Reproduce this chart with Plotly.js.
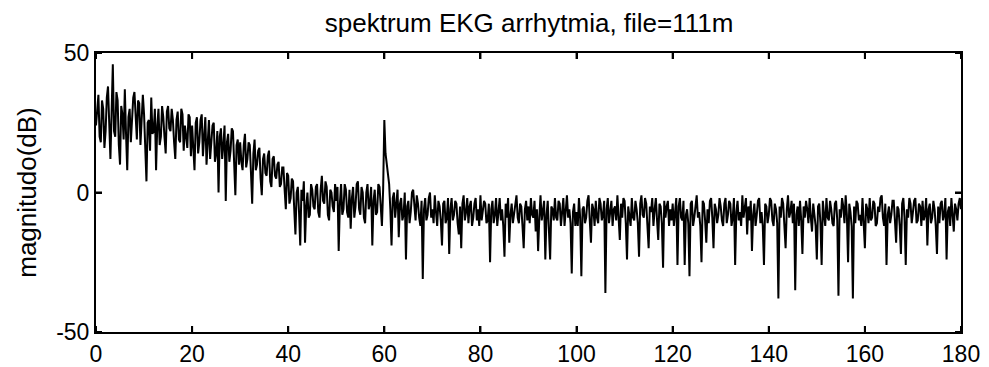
<!DOCTYPE html>
<html>
<head>
<meta charset="utf-8">
<script src="https://cdn.plot.ly/plotly-3.0.1.min.js"></script>
<style>html,body{margin:0;padding:0;background:#fff;}#chart{width:989px;height:367px;}</style>
</head>
<body>
<div id="chart"></div>
<script>
// Frequency step 0.25 Hz from 0 to 180
const freqStart = 0;
const freqStep = 0.25;
// Magnitudes (dB), in 10 Hz blocks
const mag0_10    = [24,31,35,20,18,33,30,16,22,34,38,25,12,29,46,22,20,36,33,17,10,31,28,19,37,21,8,27,30,18,25,34,36,24,19,33,32,17,24,35];
const mag10_20   = [28,18,4,25,26,15,34,21,22,30,8,24,30,17,20,31,27,20,14,29,31,23,22,30,26,18,12,26,29,19,18,30,28,15,24,20,16,28,27,13];
const mag20_30   = [24,16,8,25,27,14,18,26,28,13,22,27,10,21,26,12,19,24,25,11,14,22,0,20,23,12,17,24,-3,18,21,11,15,23,22,9,-1,17,19,10];
const mag30_40   = [18,11,8,17,21,9,12,18,17,7,-4,14,19,8,10,15,16,5,-1,12,14,7,6,13,15,4,2,12,13,6,5,10,11,2,3,9,9,1,-6,7];
const mag40_50   = [6,-4,-2,5,4,-6,-15,0,2,-7,-19,1,-3,4,-18,-5,0,-9,-8,3,1,-5,-6,2,3,-7,-9,1,6,-3,-4,4,2,-8,-10,1,0,-5,-7,3];
const mag50_60   = [-3,2,-21,-4,3,-8,-6,3,1,-7,-9,1,-13,-2,2,-9,-5,3,4,-6,-8,2,0,-9,-11,0,3,-6,-4,2,-19,-3,1,-8,-7,3,2,-5,-12,1];
const mag60_70   = [26,14,10,6,3,-6,-19,-2,0,-9,-5,1,-16,-4,-2,-10,-8,0,-24,-5,-3,-11,-7,0,1,-7,-10,-1,-4,-9,-12,-3,-31,-6,-2,-10,-8,-2,0,-9];
const mag70_80   = [-6,-11,-1,-7,-12,-3,-5,-10,-19,-4,-3,-11,-9,-2,-22,-6,-2,-10,-8,-3,-4,-11,-15,-5,-20,-4,-1,-10,-7,-2,-11,-5,-3,-12,-9,-4,-2,-10,-6,-12];
const mag80_90   = [-1,-10,-7,-3,-4,-11,-10,-4,-25,-6,-3,-11,-8,-2,-12,-5,-2,-10,-6,-12,-23,-4,-9,-2,-18,-8,-4,-11,-7,-3,-1,-9,-11,-4,-5,-12,-20,-6,-3,-10];
const mag90_100  = [-5,-11,-2,-8,-9,-3,-14,-6,-21,-9,-1,-10,-7,-3,-24,-8,-3,-11,-24,-5,-6,-10,-2,-9,-10,-3,-4,-12,-8,-2,-12,-5,-1,-9,-6,-11,-29,-7,-4,-12];
const mag100_110 = [-7,-12,-2,-9,-30,-6,-5,-11,-9,-3,-1,-10,-18,-4,-6,-12,-3,-9,-11,-2,-4,-10,-8,-3,-36,-6,-2,-11,-7,-3,-12,-6,-5,-10,-1,-8,-17,-4,-9,-2];
const mag110_120 = [-3,-11,-24,-5,-8,-12,-2,-9,-10,-3,-6,-11,-23,-4,-1,-8,-9,-2,-4,-11,-20,-5,-7,-2,-12,-6,-2,-10,-17,-4,-5,-11,-27,-3,-9,-5,-3,-12,-6,-10];
const mag120_130 = [-4,-12,-8,-2,-26,-5,-2,-9,-10,-3,-26,-8,-6,-11,-30,-4,-3,-12,-9,-5,-1,-9,-7,-12,-25,-3,-4,-10,-18,-6,-11,-3,-2,-9,-20,-4,-6,-11,-8,-2];
const mag130_140 = [-5,-10,-12,-4,-2,-11,-8,-3,-4,-12,-9,-2,-26,-7,-3,-10,-7,-12,-1,-9,-6,-2,-15,-5,-10,-3,-21,-8,-4,-12,-8,-3,-2,-11,-7,-12,-26,-4,-5,-11];
const mag140_150 = [-8,-2,-3,-10,-12,-4,-6,-11,-38,-5,-9,-2,-4,-11,-20,-6,-1,-9,-7,-3,-11,-4,-35,-8,-5,-12,-3,-10,-22,-5,-9,-3,-6,-11,-2,-9,-14,-4,-8,-12];
const mag150_160 = [-24,-5,-4,-11,-26,-3,-8,-12,-2,-9,-10,-3,-6,-11,-12,-4,-3,-10,-37,-6,-9,-2,-5,-11,-1,-8,-25,-4,-7,-12,-38,-5,-11,-3,-4,-10,-8,-12,-2,-9];
const mag160_170 = [-20,-4,-6,-11,-2,-10,-9,-3,-4,-12,-11,-5,-7,-2,-1,-9,-12,-4,-26,-8,-5,-11,-8,-3,-3,-10,-18,-5,-6,-12,-22,-4,-2,-9,-26,-6,-9,-2,-4,-11];
const mag170_180 = [-7,-3,-2,-11,-10,-4,-5,-12,-3,-10,-8,-2,-19,-6,-4,-11,-9,-3,-6,-12,-22,-5,-11,-4,-3,-10,-8,-2,-24,-7,-5,-12,-2,-9,-14,-4,-6,-10,-4,-2,-6];

const xTicks = [0, 20, 40, 60, 80, 100, 120, 140, 160, 180];
const yTicks = [-50, 0, 50];
const titleText = 'spektrum EKG arrhytmia, file=111m';
const yTitle = 'magnitudo(dB)';

const mags = [].concat(mag0_10, mag10_20, mag20_30, mag30_40, mag40_50, mag50_60,
  mag60_70, mag70_80, mag80_90, mag90_100, mag100_110, mag110_120, mag120_130,
  mag130_140, mag140_150, mag150_160, mag160_170, mag170_180);
const freqs = mags.map((_, i) => freqStart + i * freqStep);

const fam = 'Liberation Sans, Arial, sans-serif';
const tickFont = {family: fam, size: 23, color: '#000'};
const titleFont = {family: fam, size: 26, color: '#000'};

const xMin = xTicks[0], xMax = xTicks[xTicks.length - 1];
const yMin = yTicks[0], yMax = yTicks[yTicks.length - 1];
const tickLen = 6;
const tickLine = {color: '#000', width: 2};
const shapes = [];
xTicks.forEach(t => {
  shapes.push({type: 'line', xref: 'x', yref: 'y', ysizemode: 'pixel', yanchor: yMin,
    x0: t, x1: t, y0: 0, y1: tickLen, line: tickLine});
  shapes.push({type: 'line', xref: 'x', yref: 'y', ysizemode: 'pixel', yanchor: yMax,
    x0: t, x1: t, y0: 0, y1: -tickLen, line: tickLine});
});
yTicks.forEach(t => {
  shapes.push({type: 'line', xref: 'x', yref: 'y', xsizemode: 'pixel', xanchor: xMin,
    y0: t, y1: t, x0: 0, x1: tickLen, line: tickLine});
  shapes.push({type: 'line', xref: 'x', yref: 'y', xsizemode: 'pixel', xanchor: xMax,
    y0: t, y1: t, x0: 0, x1: -tickLen, line: tickLine});
});

Plotly.newPlot('chart', [{
  x: freqs, y: mags, type: 'scatter', mode: 'lines',
  line: {color: '#000', width: 2}, hoverinfo: 'none'
}], {
  width: 989, height: 367,
  paper_bgcolor: '#fff', plot_bgcolor: '#fff',
  margin: {l: 96, r: 28, t: 53, b: 35},
  showlegend: false,
  font: tickFont,
  shapes: shapes,
  title: {text: titleText, font: titleFont,
    x: 0.535, xanchor: 'center', y: 1 - 23/367, yanchor: 'middle', yref: 'container'},
  xaxis: {range: [xMin, xMax], tickmode: 'array', tickvals: xTicks, ticktext: xTicks.map(String),
    ticks: 'inside', ticklen: tickLen, tickwidth: 2, tickcolor: '#000',
    showline: true, linecolor: '#000', linewidth: 2, mirror: 'allticks',
    showgrid: false, zeroline: false, tickfont: tickFont},
  yaxis: {range: [yMin, yMax], tickmode: 'array', tickvals: yTicks, ticktext: yTicks.map(String),
    ticks: 'inside', ticklen: tickLen, tickwidth: 2, tickcolor: '#000',
    showline: true, linecolor: '#000', linewidth: 2, mirror: 'allticks',
    showgrid: false, zeroline: false, tickfont: tickFont,
    title: {text: yTitle, font: titleFont, standoff: 12}}
}, {staticPlot: true, displayModeBar: false});
</script>
</body>
</html>
